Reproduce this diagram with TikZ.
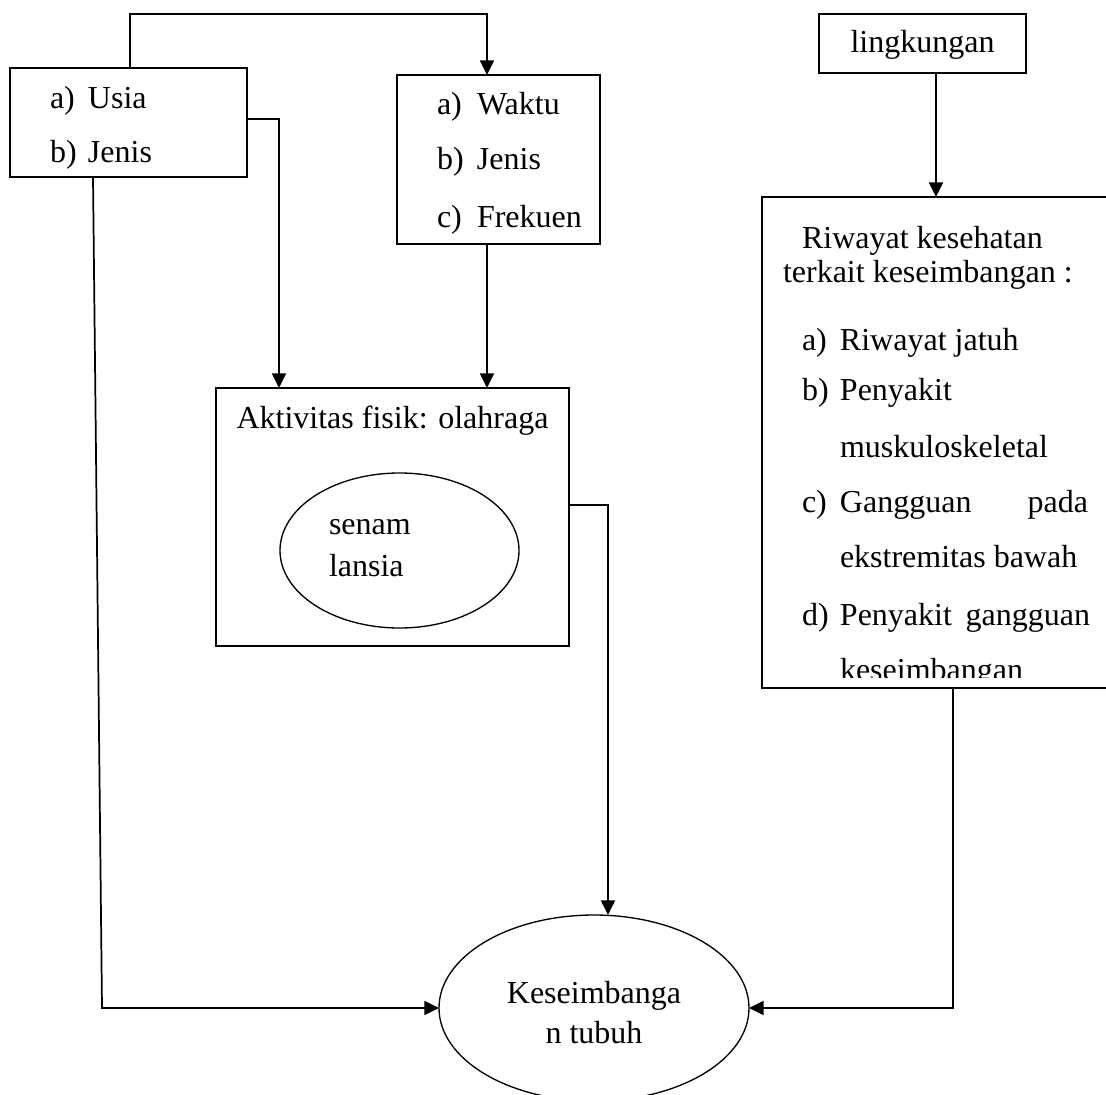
\documentclass[tikz,border=0pt]{standalone}
\usepackage{fontspec}
\setmainfont{Liberation Serif}
\usetikzlibrary{arrows.meta,shapes.geometric,fit}
\begin{document}
\begin{tikzpicture}[x=0.75pt,y=-0.75pt,
  box/.style={draw, line width=1.3pt, inner sep=0pt, outer sep=0pt},
  oval/.style={ellipse, draw, line width=1pt, inner sep=0pt, outer sep=0pt},
  txt/.style={inner sep=0pt, outer sep=0pt, anchor=base west, font=\fontsize{24}{28}\selectfont},
  ctxt/.style={txt, anchor=base},
  arr/.style={line width=1.3pt, -{Triangle[length=11pt,width=10.5pt]}}]
\useasboundingbox (0,0) rectangle (1106,1095);
\clip (0,0) rectangle (1106,1095);

% boxes and ovals
\node[box, fit={(10,68)(247,177)}] (usia) {};
\node[box, fit={(397,75)(600,244)}] (waktu) {};
\node[box, fit={(216,388)(569,646)}] (aktiv) {};
\node[oval, minimum width=179.25pt, minimum height=116.25pt] (senam) at (399.5,550.5) {};
\node[oval, minimum width=232.5pt, minimum height=139.5pt] (kes) at (594,1008) {};
\node[box, fit={(819,14)(1026,73)}] (ling) {};
\node[box, fit={(762,197)(1115,688)}] (riw) {};

% texts
\node[txt] (u1) at (50,109) {\makebox[28.5pt][l]{a)}Usia};
\node[txt] (u2) at (50,163) {\makebox[28.5pt][l]{b)}Jenis};

\node[txt] (w1) at (437,115) {\makebox[30pt][l]{a)}Waktu};
\node[txt] (w2) at (437,170) {\makebox[30pt][l]{b)}Jenis};
\node[txt] (w3) at (437,227) {\makebox[30pt][l]{c)}Frekuen};

\node[ctxt] (a1) at (392.5,428) {Aktivitas fisik: olahraga};
\node[txt] (s1) at (329,534) {senam};
\node[txt] (s2) at (329,576) {lansia};

\node[ctxt] (k1) at (594,1003) {Keseimbanga};
\node[ctxt] (k2) at (594,1043) {n tubuh};

\node[ctxt] (l1) at (922.5,53) {lingkungan};

\node[txt] (r1) at (802,248) {Riwayat kesehatan};
\node[txt] (r2) at (783,282) {terkait keseimbangan :};
\node[txt] (r3) at (802,350) {\makebox[28.5pt][l]{a)}Riwayat jatuh};
\node[txt] (r4) at (802,400) {\makebox[28.5pt][l]{b)}Penyakit};
\node[txt] (r5) at (840,457) {muskuloskeletal};
\node[txt] (r6) at (802,512) {\makebox[28.5pt][l]{c)}\makebox[186pt][s]{Gangguan\hfill pada}};
\node[txt] (r7) at (840,567) {ekstremitas bawah};
\node[txt] (r8) at (802,625) {\makebox[28.5pt][l]{d)}\makebox[187.5pt][s]{Penyakit\hfill gangguan}};
\begin{scope}
  \clip (762,600) rectangle (1106,677);
  \node[txt] (r9) at (840,680) {keseimbangan};
\end{scope}

% connector bends
\coordinate (c1) at (130,14);
\coordinate (c2) at (487,14);
\coordinate (c3) at (279,119);
\coordinate (c4) at (608,505);
\coordinate (c5) at (93,0);
\coordinate (c6) at (102,1008);
\coordinate (c7) at (953,1008);
\coordinate (c8) at (936,0);

% connectors
\draw[arr] (usia.north -| c1) -- (c1) -- (c2) -- (waktu.north -| c2);
\draw[arr] (usia.east |- c3) -- (c3) -- (aktiv.north -| c3);
\draw[arr] (waktu.south -| c2) -- (aktiv.north -| c2);
\draw[arr] (aktiv.east |- c4) -- (c4) -- (kes.north -| c4);
\draw[arr] (usia.south -| c5) -- (c6) -- (kes.west);
\draw[arr] (riw.south -| c7) -- (c7) -- (kes.east);
\draw[arr] (ling.south -| c8) -- (riw.north -| c8);
\end{tikzpicture}
\end{document}
